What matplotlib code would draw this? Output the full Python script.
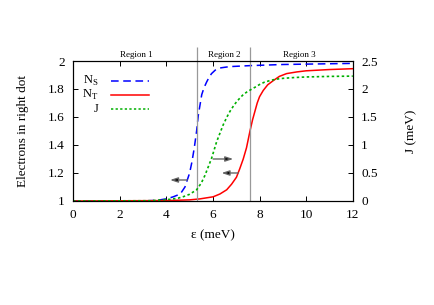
import numpy as np
import matplotlib
matplotlib.use('Agg')
import matplotlib.pyplot as plt

plt.rcParams['font.family'] = ['Liberation Serif', 'DejaVu Serif']
plt.rcParams['mathtext.fontset'] = 'custom'
plt.rcParams['mathtext.rm'] = 'Liberation Serif'

# N_S (blue dashed), electrons in right dot
eps_s = np.array([0, 3.0, 3.6, 4.0, 4.3, 4.6, 4.8, 5.0, 5.1, 5.2, 5.3, 5.37, 5.45, 5.52, 5.62,
                  5.73, 5.84, 5.94, 6.1, 6.3, 6.5, 6.73, 7.6, 9.0, 12])
n_s = np.array([1.0, 1.0, 1.005, 1.015, 1.03, 1.05, 1.1, 1.2, 1.28, 1.38, 1.5, 1.61, 1.69, 1.76, 1.81,
                1.85, 1.885, 1.91, 1.935, 1.95, 1.955, 1.96, 1.967, 1.975, 1.983])

# N_T (red solid)
eps_t = np.array([0, 4.0, 5.0, 5.44, 6.01, 6.3, 6.59, 6.8, 7.01, 7.15, 7.3, 7.44, 7.59, 7.7, 7.8, 7.9,
                  8.0, 8.16, 8.35, 8.59, 8.85, 9.16, 9.6, 10, 11, 12])
n_t = np.array([1.0, 1.003, 1.008, 1.015, 1.03, 1.05, 1.08, 1.12, 1.17, 1.23, 1.3, 1.38, 1.5, 1.58, 1.64,
                1.7, 1.745, 1.79, 1.83, 1.86, 1.89, 1.91, 1.922, 1.93, 1.939, 1.945])

# J (green dotted), right axis in meV
eps_j = np.array([0, 3.3, 4.16, 4.5, 4.73, 5.0, 5.3, 5.5, 5.66, 5.8, 5.94, 6.16, 6.3, 6.44, 6.6, 6.73,
                  6.87, 7.01, 7.16, 7.3, 7.45, 7.59, 7.8, 8.0, 8.2, 8.44, 8.7, 9.0, 9.5, 10, 11, 12])
j_mev = np.array([0, 0.005, 0.03, 0.05, 0.077, 0.12, 0.2, 0.32, 0.46, 0.61, 0.76, 1.06, 1.21, 1.36, 1.5, 1.6,
                  1.69, 1.77, 1.84, 1.9, 1.945, 1.98, 2.03, 2.08, 2.12, 2.15, 2.175, 2.19, 2.205, 2.215, 2.225, 2.23])

region_bounds = [5.3, 7.6]
region_labels = ['Region 1', 'Region 2', 'Region 3']
region_centers = [2.7, 6.5, 9.7]

# arrows: (tail, head, y)
arrows = [(4.9, 4.16, 1.15), (6.01, 6.87, 1.3), (7.09, 6.37, 1.2)]

fig = plt.figure(figsize=(4.35, 3.05), dpi=100)
ax = fig.add_axes([0.168, 0.341, 0.643, 0.459])
ax2 = ax.twinx()

ax.plot(eps_s, n_s, color='#0000ff', lw=1.1, dashes=(5, 3))
ax.plot(eps_t, n_t, color='#ff0000', lw=1.1)
ax2.plot(eps_j, j_mev, color='#00b000', lw=1.2, dashes=(1.5, 1.5))

ax.set_xlim(0, 12)
ax.set_ylim(1, 2)
ax2.set_ylim(0, 2.5)
ax.set_xticks(np.arange(0, 13, 2))
ax.set_yticks([1, 1.2, 1.4, 1.6, 1.8, 2])
ax.set_yticklabels(['1', '1.2', '1.4', '1.6', '1.8', '2'])
ax2.set_yticks([0, 0.5, 1, 1.5, 2, 2.5])
ax2.set_yticklabels(['0', '0.5', '1', '1.5', '2', '2.5'])

ax.tick_params(direction='in', length=3.5, width=0.7, labelsize=9.5, top=True, pad=6)
ax2.tick_params(direction='in', length=3.5, width=0.7, labelsize=9.5, pad=6)
for a in (ax, ax2):
    for s in a.spines.values():
        s.set_linewidth(0.8)

ax.set_xlabel('ε (meV)', fontsize=9.5, labelpad=6)
ax.set_ylabel('Electrons in right dot', fontsize=9.5, labelpad=14)
ax2.set_ylabel('J (meV)', fontsize=9.5, labelpad=20)

# region boundaries and labels
ax.vlines(region_bounds, 1, 2.1, color='0.6', lw=0.9, clip_on=False)
for xc, lab in zip(region_centers, region_labels):
    ax.text(xc, 2.045, lab, fontsize=6.5, ha='center', va='center')

for tail, head, yy in arrows:
    ax.annotate('', xy=(head, yy), xytext=(tail, yy),
                arrowprops=dict(arrowstyle='-|>,head_length=0.45,head_width=0.15',
                                fc='black', ec='0.4', lw=1.0, shrinkA=0, shrinkB=0))

# gnuplot style key
key = [(r'N$_\mathrm{S}$', dict(color='#0000ff', dashes=(5, 3))),
       (r'N$_\mathrm{T}$', dict(color='#ff0000')),
       ('J', dict(color='#00b000', dashes=(1.5, 1.5)))]
for i, (lab, st) in enumerate(key):
    yk = 0.855 - i * 0.1
    ax.text(0.09, yk, lab, transform=ax.transAxes, ha='right', va='center', fontsize=9)
    ax.plot([0.137, 0.27], [yk, yk], transform=ax.transAxes, lw=1.1, **st)

fig.savefig('out.png', dpi=100)
